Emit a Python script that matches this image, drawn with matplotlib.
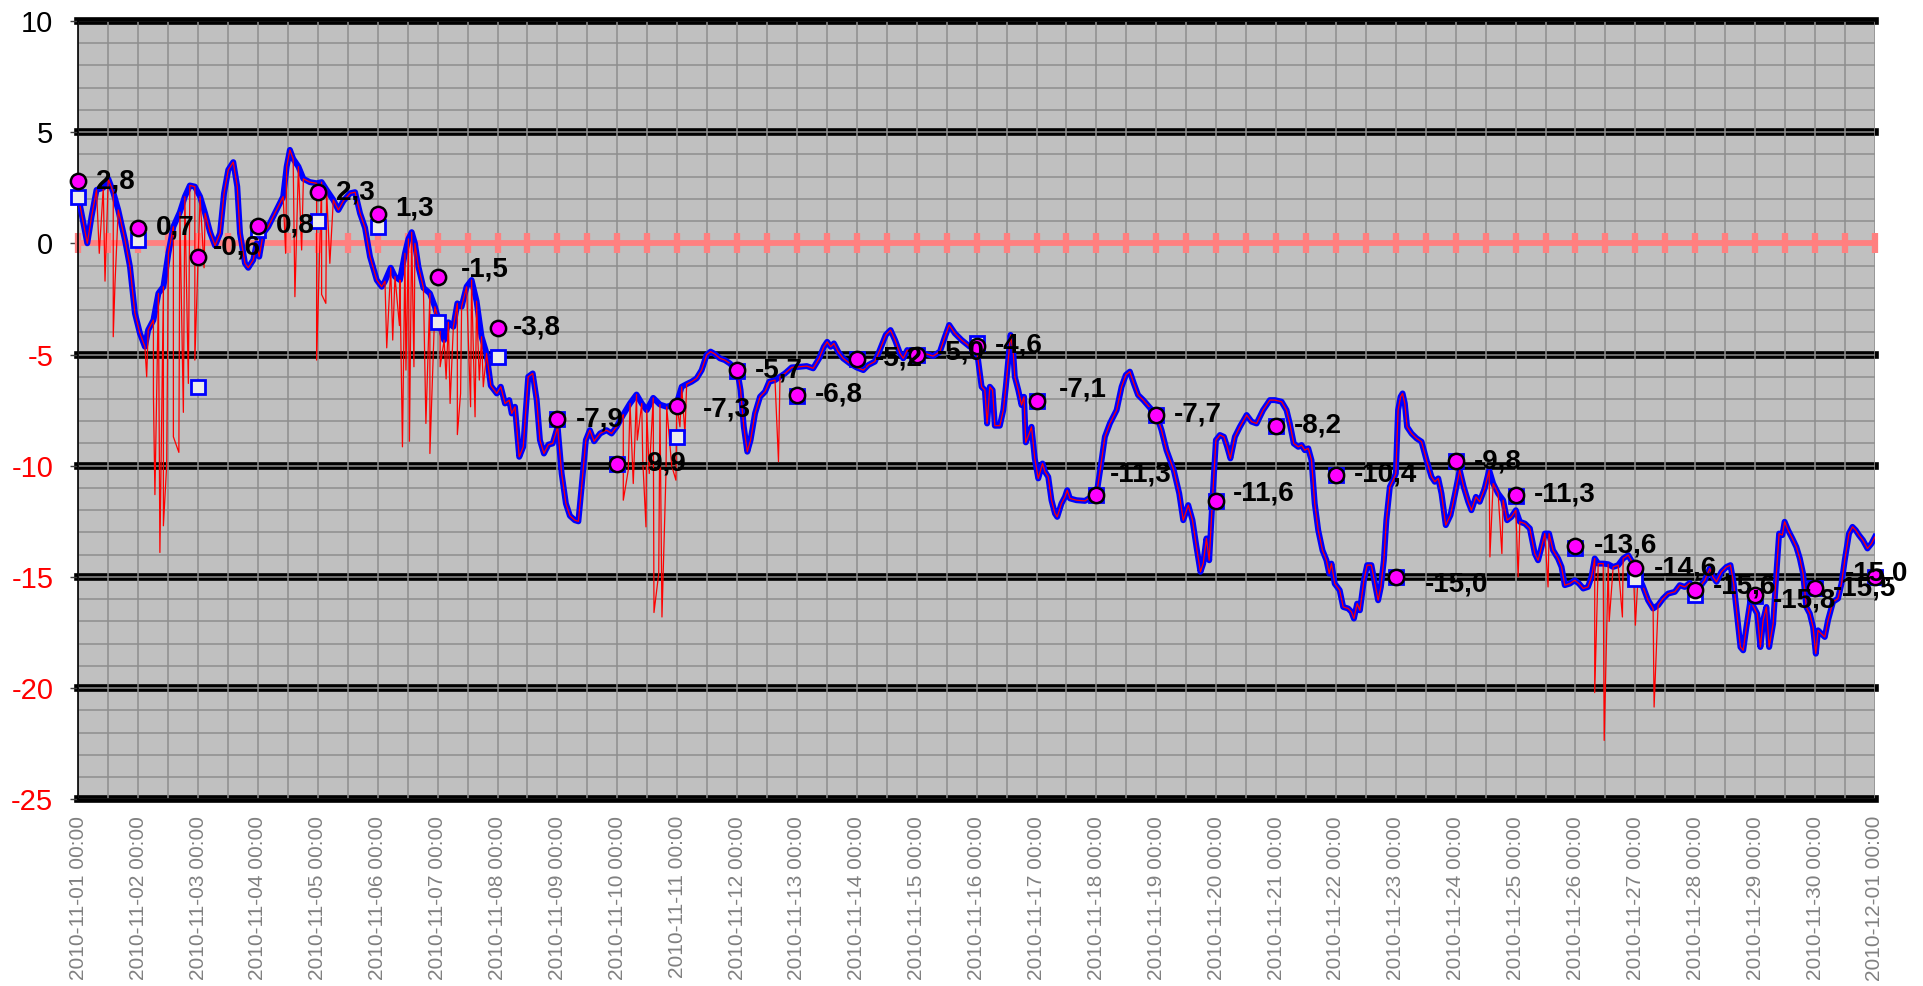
import numpy as np
import pandas as pd
import matplotlib
matplotlib.use('Agg')
import matplotlib.pyplot as plt
import matplotlib.dates as mdates

plt.rcParams['font.family'] = ['Liberation Sans', 'DejaVu Sans']

# ─── data (hours after 2010-11-01 00:00, °C) ────────────────────────────────
smooth_pts = [
    (0, 2.1), (3.6, 0.0), (5.3, 1.2), (7.3, 2.4), (10.0, 2.5), (12.0, 2.9), (14.0, 2.3),
    (16.0, 1.5), (18.7, 0.15), (20.7, -1.05), (22.7, -3.15), (24.7, -4.05), (26.7, -4.65),
    (28.0, -3.9), (30.1, -3.45), (32.1, -2.25), (34.1, -1.95), (36.1, -0.45), (38.1, 0.75),
    (40.7, 1.4), (42.7, 2.1), (44.7, 2.6), (46.7, 2.55), (48.8, 2.1), (50.8, 1.35), (52.8, 0.5),
    (54.8, -0.1), (56.8, 0.45), (58.4, 2.25), (60.1, 3.3), (62.1, 3.65), (63.7, 2.55),
    (64.8, 0.45), (66.8, -0.9), (68.1, -1.1), (70.1, -0.75), (71.5, 0.0), (72.5, -0.6),
    (74.1, 0.45), (76.1, 0.75), (78.1, 1.2), (80.1, 1.65), (82.1, 2.1), (83.5, 3.45),
    (84.8, 4.2), (86.1, 3.8), (88.2, 3.45), (90.2, 2.9), (92.8, 2.75), (95.5, 2.7), (97.5, 2.75),
    (99.5, 2.4), (102.2, 1.95), (104.2, 1.5), (106.2, 1.9), (108.9, 2.25), (110.9, 2.3),
    (112.9, 1.35), (114.9, 0.7), (116.9, -0.6),
    (119.6, -1.65), (121.6, -1.95), (122.9, -1.7), (125.2, -1.1), (126.9, -1.5), (128.9, -1.65),
    (130.9, -0.45), (132.3, 0.2), (133.6, 0.5), (134.9, 0.0), (136.3, -1.05), (138.3, -2.0),
    (140.9, -2.25), (142.9, -2.85), (145.0, -3.7), (146.6, -4.35), (148.3, -3.55), (150.3, -3.75),
    (151.9, -2.7), (153.6, -2.85), (155.6, -1.95), (157.6, -1.65), (159.6, -2.6), (161.6, -4.2),
    (163.6, -4.95), (165.3, -6.4), (167.7, -6.75), (169.3, -6.45), (171.0, -7.2), (172.7, -7.05),
    (173.7, -7.65), (175.0, -7.35), (176.7, -9.6), (178.3, -9.15), (180.3, -6.0), (182.1, -5.85),
    (183.7, -7.05), (185.0, -8.85), (186.6, -9.45), (188.4, -9.05), (190.1, -9.0), (192.1, -8.25),
    (193.7, -10.35), (195.4, -11.7), (197.0, -12.25), (199.0, -12.45), (200.4, -12.5),
    (201.7, -10.95), (203.4, -8.85), (205.0, -8.4), (206.7, -8.9), (209.1, -8.55), (211.7, -8.4),
    (213.7, -8.55), (215.7, -8.25), (218.4, -7.7), (221.1, -7.2), (223.7, -6.8), (225.8, -7.2),
    (227.8, -7.5), (230.4, -6.95), (233.1, -7.25), (235.8, -7.35),
    (239.8, -7.2), (241.8, -6.45), (243.8, -6.33), (245.8, -6.22), (247.8, -6.07), (249.8, -5.7),
    (251.8, -5.02), (253.4, -4.87), (255.1, -4.98), (257.1, -5.17), (259.1, -5.25), (261.1, -5.4),
    (263.1, -5.62), (264.5, -6.0), (265.4, -6.6), (266.7, -8.25), (268.1, -9.37), (269.4, -8.85),
    (271.2, -7.65), (273.2, -6.9), (275.2, -6.67), (276.9, -6.22), (279.2, -6.15), (281.2, -6.0),
    (283.2, -5.85), (285.9, -5.58), (289.2, -5.55), (291.9, -5.52), (294.5, -5.62), (296.9, -5.17),
    (298.8, -4.65), (300.1, -4.43), (301.5, -4.65), (302.8, -4.5), (304.5, -4.87), (306.5, -5.17),
    (309.2, -5.4), (311.9, -5.58), (314.6, -5.7), (316.6, -5.47), (319.2, -5.32), (321.2, -4.8),
    (323.6, -4.12), (325.5, -3.9), (327.3, -4.35), (329.3, -4.95), (330.6, -5.17), (332.2, -4.8),
    (334.6, -4.87), (337.3, -4.98), (340.0, -4.98), (342.6, -5.07), (345.3, -4.87), (347.3, -4.2),
    (349.0, -3.67), (351.3, -4.05), (354.0, -4.35),
    (357.3, -4.65), (359.3, -4.5), (360.6, -5.25), (362.0, -6.45), (363.3, -6.6), (364.2, -8.1),
    (365.3, -6.45), (366.4, -6.6), (367.3, -8.2), (369.3, -8.2), (370.7, -7.5), (371.7, -6.45),
    (372.7, -5.25), (373.6, -4.12), (374.7, -4.95), (375.3, -6.0), (376.7, -6.6), (378.0, -7.27),
    (379.0, -6.9), (379.7, -8.95), (381.1, -8.55), (382.0, -8.25), (383.3, -9.67), (384.7, -10.57),
    (386.4, -9.9), (387.4, -10.27), (388.7, -10.5), (390.0, -11.55), (391.4, -12.15),
    (392.3, -12.3), (394.0, -11.7), (395.4, -11.4), (396.3, -11.1), (397.4, -11.47),
    (400.0, -11.55), (403.4, -11.58), (406.0, -11.4), (408.1, -11.25), (409.7, -10.05),
    (411.4, -8.7), (413.4, -8.1), (416.1, -7.5), (418.1, -6.45), (419.8, -5.92), (421.4, -5.77),
    (423.0, -6.3), (424.7, -6.82), (426.8, -7.05), (429.5, -7.4), (432.1, -7.72), (434.1, -8.4),
    (436.1, -9.3), (439.0, -10.2), (441.2, -11.25), (442.8, -12.45), (444.8, -11.77),
    (446.5, -12.45), (448.1, -13.65), (449.7, -14.77), (450.8, -14.4), (452.1, -13.27),
    (453.2, -14.25), (454.5, -11.55), (455.9, -8.85), (457.5, -8.62), (459.1, -8.7),
    (460.4, -9.15), (461.7, -9.67), (463.5, -8.7), (465.5, -8.25), (468.2, -7.72), (470.2, -8.02),
    (472.2, -8.1), (474.8, -7.5),
    (477.5, -7.05), (479.5, -7.05), (482.2, -7.12), (484.2, -7.5), (485.5, -8.1), (487.1, -9.0),
    (488.9, -9.15), (490.2, -9.07), (491.5, -9.3), (492.9, -9.22), (494.2, -9.75), (495.5, -11.7),
    (496.9, -12.9), (498.6, -13.8), (500.2, -14.25), (501.3, -14.85), (502.2, -14.4),
    (503.5, -15.3), (505.5, -15.6), (506.9, -16.35), (508.9, -16.42), (510.2, -16.57),
    (511.2, -16.87), (512.5, -16.2), (513.6, -16.5), (515.2, -15.15), (516.5, -14.47),
    (518.2, -14.47), (519.6, -15.3), (520.9, -16.05), (522.0, -15.45), (523.2, -14.25),
    (524.2, -12.45), (525.6, -10.95), (526.9, -10.65), (528.0, -10.35), (528.9, -7.5),
    (529.9, -6.9), (530.7, -6.75), (531.6, -7.2), (532.5, -8.25), (534.3, -8.55), (536.3, -8.77),
    (538.3, -8.92), (540.3, -9.75), (542.3, -10.5), (543.6, -10.72), (545.0, -10.57),
    (546.3, -11.25), (548.0, -12.67), (549.9, -12.22), (551.6, -11.32), (553.6, -10.2),
    (555.2, -10.95), (557.0, -11.62), (558.3, -12.0), (560.1, -11.4), (561.6, -11.62),
    (563.6, -11.02), (565.4, -10.2), (567.0, -10.8), (569.0, -11.25), (571.0, -11.55),
    (572.6, -12.45), (574.3, -12.3), (576.1, -12.0), (577.7, -12.52), (579.7, -12.6),
    (581.7, -12.82), (583.7, -13.95), (585.0, -14.25), (586.4, -13.65), (587.7, -13.05),
    (589.4, -13.05), (591.0, -13.8), (593.0, -14.17), (594.4, -14.55), (595.7, -15.37),
    (597.7, -15.3), (599.7, -15.15), (601.4, -15.3), (603.1, -15.52), (605.0, -15.45),
    (606.4, -15.0), (607.7, -14.17), (609.1, -14.4), (611.1, -14.4), (613.1, -14.43),
    (615.1, -14.55), (617.1, -14.47), (619.1, -14.17), (621.1, -14.02), (623.1, -14.4),
    (625.1, -14.92), (627.1, -15.45), (629.1, -16.05), (631.1, -16.42), (633.1, -16.27),
    (635.1, -15.97), (637.1, -15.75), (639.8, -15.67), (641.8, -15.37), (643.8, -15.45),
    (645.8, -15.27), (647.8, -15.6), (649.8, -15.45), (651.8, -15.15), (653.8, -14.62),
    (655.1, -15.0), (656.5, -15.22), (658.5, -14.77), (660.5, -14.55), (662.1, -14.47),
    (663.4, -15.3), (664.8, -16.8), (666.1, -18.15), (667.2, -18.3), (668.5, -17.25),
    (670.1, -16.05), (671.4, -16.35), (672.8, -16.65), (674.1, -18.15), (675.2, -16.95),
    (676.5, -16.35), (677.6, -18.15), (679.2, -17.1), (680.5, -14.85), (681.6, -13.05),
    (682.9, -13.12), (683.8, -12.52), (685.2, -12.9), (686.9, -13.27), (688.5, -13.65),
    (689.9, -14.17), (691.2, -14.85), (692.5, -16.35), (693.9, -16.65), (695.2, -17.25),
    (696.3, -18.45), (697.2, -17.4), (698.5, -17.55), (699.9, -17.7), (701.2, -16.95),
    (703.2, -16.12), (705.2, -15.97), (706.6, -15.3), (707.9, -14.25), (709.6, -13.05),
    (711.0, -12.75), (712.3, -12.9), (713.6, -13.12), (715.2, -13.35), (717.0, -13.72),
    (718.6, -13.5), (720.0, -13.2),
]

# downward spikes of the raw (red) series
spike_pts = [
    (8.4, -0.45), (10.7, -1.7), (14.0, -4.2), (14.7, -1.8), (27.4, -6.0), (30.1, -6.8),
    (30.7, -11.3), (32.7, -13.9), (34.1, -12.7), (35.4, -10.0), (38.1, -8.7), (40.3, -9.4),
    (42.1, -7.6), (44.1, -6.3), (46.7, -5.25), (50.4, -1.1), (83.1, -0.45), (86.8, -2.4),
    (89.5, -0.3), (95.5, -5.25), (97.5, -2.3), (99.2, -2.7), (100.8, -0.9), (123.6, -4.7),
    (126.0, -4.35), (128.7, -3.7), (129.9, -9.15), (131.3, -5.7), (132.7, -8.9), (134.5, -5.55),
    (139.3, -8.1), (140.9, -9.45), (145.0, -5.55), (147.4, -6.1), (149.0, -7.2), (151.9, -8.6),
    (153.2, -6.75), (157.2, -7.35), (159.0, -7.8), (160.7, -6.15), (162.3, -6.45),
    (218.4, -11.55), (220.4, -10.2), (222.4, -10.8), (224.0, -8.85), (226.2, -9.75),
    (227.5, -12.75), (228.8, -10.35), (230.7, -16.6), (232.6, -14.85), (233.9, -16.8),
    (235.5, -10.35), (237.8, -10.0), (239.5, -10.65), (241.1, -8.25), (243.1, -8.55),
    (280.6, -9.82), (565.7, -14.1), (570.5, -13.95), (577.0, -15.0), (589.0, -15.45),
    (607.7, -20.2), (611.5, -22.35), (613.5, -17.0), (618.8, -16.8), (624.0, -17.17),
    (631.5, -20.85),
]

day_mean = [2.8, 0.7, -0.6, 0.8, 2.3, 1.3, -1.5, -3.8, -7.9, -9.9, -7.3, -5.7, -6.8, -5.2,
            -5.0, -4.6, -7.1, -11.3, -7.7, -11.6, -8.2, -10.4, -15.0, -9.8, -11.3, -13.6,
            -14.6, -15.6, -15.8, -15.5, -15.0]
day_other = [2.1, 0.15, -6.45, 0.6, 1.0, 0.75, -3.55, -5.1, -7.9, -9.9, -8.7, -5.75, -6.85,
             -5.2, -5.0, -4.5, -7.1, -11.3, -7.7, -11.6, -8.2, -10.4, -15.0, -9.8, -11.35,
             -13.7, -15.1, -15.8, -15.85, -15.5, -15.0]

start = pd.Timestamp('2010-11-01 00:00')
end = pd.Timestamp('2010-12-01 00:00')
days = pd.date_range(start, end, freq='D')
half_days = pd.date_range(start, end, freq='12h')

# label nudges in pixels (dx from marker centre to text, dy up)
nudge = {2: (15, 9), 5: (18, 6), 6: (23, 7), 7: (15, 0), 9: (22, 0), 10: (26, -4),
         14: (20, 2), 16: (22, 12), 17: (13, 20), 19: (17, 8), 22: (29, -8),
         27: (18, 4), 28: (18, -6)}


def to_time(hours):
    return (start + pd.to_timedelta(np.asarray(hours, dtype=float), unit='h')).to_numpy()


sm_h, sm_v = zip(*smooth_pts)
raw = sorted(list(smooth_pts) + list(spike_pts), key=lambda p: p[0])
raw_h, raw_v = zip(*raw)

fig = plt.figure(figsize=(19.24, 9.86), dpi=100)
fig.patch.set_facecolor('white')
ax = fig.add_axes([0.0407, 0.1893, 0.9338, 0.7895])
ax.set_facecolor('#c0c0c0')

ax.set_ylim(-25, 10)
ax.set_xlim(days[0], days[-1])

# grid
ax.set_axisbelow(True)
ax.xaxis.set_major_locator(mdates.DayLocator())
ax.xaxis.set_minor_locator(mdates.HourLocator(byhour=[12]))
ax.xaxis.set_major_formatter(mdates.DateFormatter('%Y-%m-%d %H:%M'))
ax.set_yticks(range(-25, 11, 5))
ax.set_yticks(range(-25, 11), minor=True)
ax.grid(True, which='both', color='#8e8e8e', lw=1.1)
for v in range(-25, 11, 5):
    if v != 0:
        ax.axhline(v, color='black', lw=5.5, zorder=0.4, clip_on=False)

# zero reference with markers
ax.plot(half_days, np.zeros(len(half_days)), color='#ff8080', lw=4.2, marker='|',
        ms=14, mew=4.5, zorder=2, clip_on=False)

ax.plot(to_time(sm_h), sm_v, color='#0000ff', lw=4.3, zorder=3, solid_joinstyle='round')
ax.plot(to_time(raw_h), raw_v, color='#ff0000', lw=0.9, zorder=4)

ax.plot(days, day_other, ls='none', marker='s', ms=10.5, mfc='#ececec', mec='#0000ff',
        mew=2, zorder=5, clip_on=False)
ax.plot(days, day_mean, ls='none', marker='o', ms=11, mfc='#ff00ff', mec='black',
        mew=1.8, zorder=6, clip_on=False)

for i, (d, v) in enumerate(zip(days, day_mean)):
    txt = f'{v:.1f}'.replace('.', ',')
    if i == len(days) - 1:
        ax.annotate(txt, (d, v), xytext=(33, 3), textcoords='offset pixels',
                    ha='right', va='center', fontsize=20, fontweight='bold',
                    zorder=7, annotation_clip=False)
        continue
    dx, dy = nudge.get(i, (18, 0))
    ax.annotate(txt, (d, v), xytext=(dx, dy), textcoords='offset pixels',
                ha='left', va='center', fontsize=20, fontweight='bold',
                zorder=7, annotation_clip=False)

# axes styling
for s in ['top', 'bottom', 'left']:
    ax.spines[s].set_color('black')
    ax.spines[s].set_linewidth(1.2)
ax.spines['right'].set_visible(False)

ax.tick_params(axis='x', which='both', length=0, pad=12, labelsize=15,
               labelcolor='#808080', labelrotation=90)
ax.tick_params(axis='y', which='major', length=6, width=1, color='#404040', pad=12,
               labelsize=21)
ax.tick_params(axis='y', which='minor', length=0)
ax.set_yticklabels([str(v) for v in range(-25, 11, 5)])
for lab, v in zip(ax.get_yticklabels(), range(-25, 11, 5)):
    lab.set_color('red' if v < 0 else 'black')

fig.savefig('out.png', dpi=100, facecolor='white')
